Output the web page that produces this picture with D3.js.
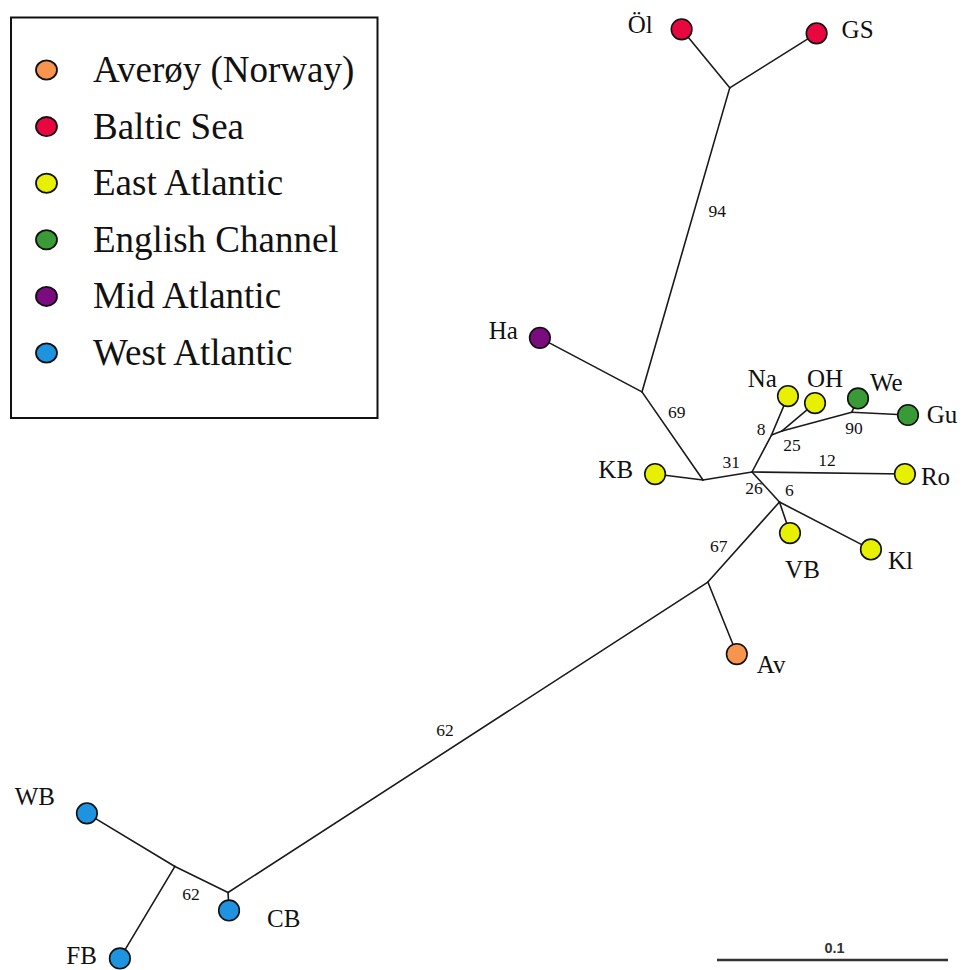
<!DOCTYPE html>
<html>
<head>
<meta charset="utf-8">
<script src="https://cdn.jsdelivr.net/npm/d3@7"></script>
<style>
  html, body { margin: 0; padding: 0; background: #fff; }
  svg { display: block; }
</style>
</head>
<body>
<svg id="chart" width="963" height="970"></svg>
<script>
// ---------------- DATA ----------------
const regions = ["Averøy (Norway)", "Baltic Sea", "East Atlantic", "English Channel", "Mid Atlantic", "West Atlantic"];
const regionColors = ["#F7944D", "#E8083F", "#E6F000", "#3A9A36", "#7A0C80", "#1E93E0"];

const leaves = ["Öl", "GS", "Ha", "KB", "Na", "OH", "We", "Gu", "Ro", "VB", "Kl", "Av", "WB", "FB", "CB"];
const leafRegion = ["Baltic Sea", "Baltic Sea", "Mid Atlantic", "East Atlantic", "East Atlantic", "East Atlantic",
  "English Channel", "English Channel", "East Atlantic", "East Atlantic", "East Atlantic", "Averøy (Norway)",
  "West Atlantic", "West Atlantic", "West Atlantic"];

// unrooted tree: parent, child, branch length (substitutions/site), direction (degrees, counter-clockwise)
const edgeParent = ["root", "root", "nNa", "nNa", "nOH", "nOH", "nWe", "nWe", "root", "nF", "nF", "nF", "nAv", "nAv",
  "nCB", "nCB", "nWB", "nWB", "root", "nKB", "nKB", "nHa", "nHa", "nBal", "nBal"];
const edgeChild = ["Ro", "nNa", "Na", "nOH", "OH", "nWe", "We", "Gu", "nF", "VB", "Kl", "nAv", "Av", "nCB",
  "CB", "nWB", "WB", "FB", "nKB", "KB", "nHa", "Ha", "nBal", "Öl", "GS"];
const branchLength = [0.0662, 0.0181, 0.0183, 0.0049, 0.0187, 0.0312, 0.0066, 0.0244, 0.0176, 0.0142, 0.0446, 0.0465, 0.0336, 0.2474,
  0.0078, 0.0256, 0.0445, 0.0464, 0.0215, 0.0209, 0.0464, 0.0500, 0.1370, 0.0328, 0.0444];
const branchAngle = [-0.75, 62.2, 67.1, 20.9, 40.3, 15.0, 65.5, -2.7, -47.5, -71.3, -27.4, -131.8, -68.1, -147.1,
  -86.8, 153.9, 148.9, -120.9, -170.7, 172.9, 124.7, 152.1, 73.9, 129.4, 32.1];

// bootstrap support values, attached to the branch leading to the given node
const bootstrapEdge = ["nBal", "nHa", "nKB", "Ro", "nNa", "nOH", "nWe", "nF", "nF", "nAv", "nCB", "nWB"];
const bootstrapValue = [94, 69, 31, 12, 8, 25, 90, 26, 6, 67, 62, 62];

const scaleBarValue = 0.1;
const scaleBarLabel = "0.1";

// ---------------- LAYOUT (presentation only) ----------------
// label placement for bootstrap values: fraction along branch, px offset
const bootstrapPlacement = [[0.6, 22.7, 7.1], [0.77, 20.7, 6.1], [0.5, 3.8, -7.7], [0.5, -1.5, -7], [1, -10.5, 0],
  [0.5, 15.3, 18], [0.9, 9.3, 20], [0.5, -11.8, 7], [1, 10, -5.5], [0.5, -24.8, 9.7], [0.55, 1, -16.5], [0.5, -10.5, 20.3]];
// leaf label placement: anchor, dx, dy (px from the circle centre, baseline)
const leafLabelPlacement = {
  "Öl": ["end", -29, 4], "GS": ["start", 25, 5], "Ha": ["end", -22, 1.5], "KB": ["end", -22, 4],
  "Na": ["end", -11, -9.5], "OH": ["middle", 10, -16], "We": ["start", 12, -7], "Gu": ["start", 18.7, 8.3],
  "Ro": ["start", 16, 11], "VB": ["middle", 12.5, 45], "Kl": ["start", 17, 20], "Av": ["start", 20, 19],
  "WB": ["end", -32, -8], "CB": ["start", 38, 17], "FB": ["end", -23, 6]
};

const svg = d3.select("#chart");
const pxPerUnit = 2310;
const originX = 752, originY = 472;
const x = d3.scaleLinear().domain([-0.30, 0.09]).range([originX - 0.30 * pxPerUnit, originX + 0.09 * pxPerUnit]);
const y = d3.scaleLinear().domain([-0.20, 0.19]).range([originY + 0.20 * pxPerUnit, originY - 0.19 * pxPerUnit]);
const color = d3.scaleOrdinal().domain(regions).range(regionColors);

// compute node coordinates (tree units) by walking from the root
const pos = { root: [0, 0] };
const edges = edgeParent.map((p, i) => ({ parent: p, child: edgeChild[i], len: branchLength[i], ang: branchAngle[i] }));
let pending = edges.slice();
while (pending.length) {
  const next = [];
  pending.forEach(e => {
    if (pos[e.parent]) {
      const a = e.ang * Math.PI / 180;
      pos[e.child] = [pos[e.parent][0] + e.len * Math.cos(a), pos[e.parent][1] + e.len * Math.sin(a)];
    } else next.push(e);
  });
  pending = next;
}

const serif = "'Liberation Serif', 'Times New Roman', Times, serif";

// branches
svg.append("g")
  .selectAll("line").data(edges).join("line")
  .attr("x1", d => x(pos[d.parent][0])).attr("y1", d => y(pos[d.parent][1]))
  .attr("x2", d => x(pos[d.child][0])).attr("y2", d => y(pos[d.child][1]))
  .attr("stroke", "#1a1a1a").attr("stroke-width", 1.6).attr("stroke-linecap", "round");

// bootstrap labels
const bsData = bootstrapEdge.map((c, i) => {
  const e = edges.find(d => d.child === c);
  const [t, dx, dy] = bootstrapPlacement[i];
  const p0 = pos[e.parent], p1 = pos[e.child];
  return {
    value: bootstrapValue[i],
    px: x(p0[0] + (p1[0] - p0[0]) * t) + dx,
    py: y(p0[1] + (p1[1] - p0[1]) * t) + dy
  };
});
svg.append("g")
  .selectAll("text").data(bsData).join("text")
  .attr("x", d => d.px).attr("y", d => d.py)
  .attr("text-anchor", "middle")
  .attr("font-family", serif)
  .attr("font-size", 17.5).attr("fill", "#111")
  .text(d => d.value);

// leaves
const leafData = leaves.map((n, i) => ({ name: n, region: leafRegion[i], cx: x(pos[n][0]), cy: y(pos[n][1]) }));
const leafG = svg.append("g");
leafG.selectAll("circle").data(leafData).join("circle")
  .attr("cx", d => d.cx).attr("cy", d => d.cy).attr("r", 10.3)
  .attr("fill", d => color(d.region)).attr("stroke", "#111").attr("stroke-width", 1.6);
leafG.selectAll("text").data(leafData).join("text")
  .attr("x", d => d.cx + leafLabelPlacement[d.name][1])
  .attr("y", d => d.cy + leafLabelPlacement[d.name][2])
  .attr("text-anchor", d => leafLabelPlacement[d.name][0])
  .attr("font-family", serif)
  .attr("font-size", 25).attr("fill", "#111")
  .text(d => d.name);

// legend
const legend = svg.append("g");
legend.append("rect").attr("x", 11).attr("y", 17.5).attr("width", 366.5).attr("height", 400.5)
  .attr("fill", "#fff").attr("stroke", "#111").attr("stroke-width", 2);
const ly = d3.scalePoint().domain(regions).range([70, 353]);
const li = legend.selectAll("g.item").data(regions).join("g").attr("class", "item")
  .attr("transform", d => `translate(0,${ly(d)})`);
li.append("ellipse").attr("cx", 46.5).attr("cy", 0).attr("rx", 10.5).attr("ry", 9.6)
  .attr("fill", d => color(d)).attr("stroke", "#111").attr("stroke-width", 1.8);
li.append("text").attr("x", 93).attr("y", 12)
  .attr("font-family", serif)
  .attr("font-size", 37).attr("fill", "#111")
  .text(d => d);

// scale bar
const barX0 = 717, barY = 960;
const barLen = x(scaleBarValue) - x(0);
svg.append("line").attr("x1", barX0).attr("x2", barX0 + barLen).attr("y1", barY).attr("y2", barY)
  .attr("stroke", "#333").attr("stroke-width", 2.5);
svg.append("text").attr("x", barX0 + barLen / 2 + 2).attr("y", barY - 7)
  .attr("text-anchor", "middle")
  .attr("font-family", "'Liberation Sans', Arial, sans-serif")
  .attr("font-weight", "bold").attr("font-size", 14.5).attr("fill", "#333")
  .text(scaleBarLabel);
</script>
</body>
</html>
